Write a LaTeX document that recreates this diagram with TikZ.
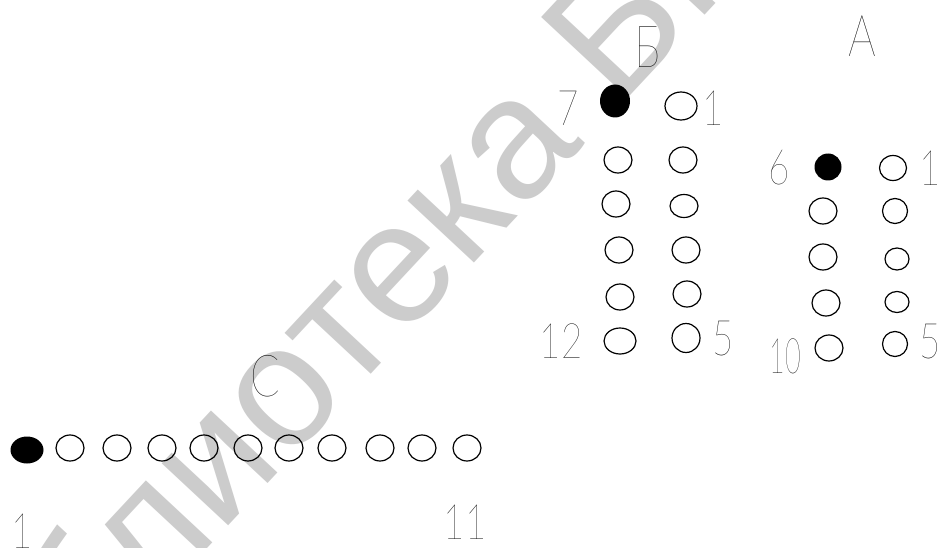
\documentclass[tikz,border=0pt]{standalone}
\usepackage{fontspec}
\setmainfont{Liberation Sans}
\newfontfamily\wmfont{Liberation Sans}
\newfontfamily\lblfont{Lato Thin}
\usetikzlibrary{shapes.geometric}
\tikzset{
  hole/.style={draw, ellipse, line width=1.2pt, inner sep=0pt, minimum width=28pt, minimum height=26pt},
  pin/.style={ellipse, fill=black, inner sep=0pt, minimum width=30pt, minimum height=30pt},
  lbl/.style={inner sep=0pt, font=\lblfont\fontsize{49}{49}\selectfont},
  biglbl/.style={inner sep=0pt, font=\lblfont\fontsize{58}{58}\selectfont},
  wm/.style={inner sep=0pt, text=black!20, font=\wmfont\fontsize{172}{172}\selectfont}
}
\newcommand{\nar}[2][0.75]{\scalebox{#1}[1]{#2}}
\newlength\wmw
\settowidth{\wmw}{\wmfont\fontsize{172}{172}\selectfont Библиотека\ }
\addtolength{\wmw}{13pt}
\begin{document}
\begin{tikzpicture}[x=1pt, y=-1pt]
\useasboundingbox (0,0) rectangle (942,548);
\clip (0,0) rectangle (942,548);
\fill[white] (0,0) rectangle (942,548);
% watermark
\path (627,99) ++(227:\wmw) node[wm, rotate=47, anchor=base west] (wmark) {Библиотека БГУИР};

% ---- block B
\node[biglbl] (lB) at (648,47) {\nar{Б}};
\node[lbl] (b7) at (568,108) {\nar{7}};
\node[pin, minimum width=30pt, minimum height=33pt] (b0) at (615,101) {};
\node[hole, minimum width=32pt, minimum height=28pt] (b1) at (681,106) {};
\node[lbl] (b1t) at (713,108) {\nar{1}};
\node[hole] (bl2) at (618,160) {};
\node[hole] (br2) at (683,160) {};
\node[hole] (bl3) at (616,204) {};
\node[hole, minimum height=23pt] (br3) at (684,206) {};
\node[hole] (bl4) at (619,250) {};
\node[hole] (br4) at (686,250) {};
\node[hole] (bl5) at (620,297) {};
\node[hole] (br5) at (687,294) {};
\node[hole, minimum width=32pt] (bl6) at (620,341) {};
\node[hole, minimum height=29pt] (br6) at (686,338) {};
\node[lbl] (b12) at (561,341) {\nar{12}};
\node[lbl] (b5) at (723,339) {\nar{5}};

% ---- block A
\node[biglbl] (lA) at (862,36) {\nar{A}};
\node[lbl] (a6) at (779,168) {\nar{6}};
\node[pin, minimum width=27pt, minimum height=27pt] (a0) at (828,167) {};
\node[hole, minimum width=27pt, minimum height=25pt] (a1) at (893,168) {};
\node[lbl] (a1t) at (930,168) {\nar{1}};
\node[hole] (al2) at (823,211) {};
\node[hole, minimum width=25pt, minimum height=25pt] (ar2) at (895,211) {};
\node[hole] (al3) at (823,257) {};
\node[hole, minimum width=24pt, minimum height=22pt] (ar3) at (897,259) {};
\node[hole] (al4) at (826,303) {};
\node[hole, minimum width=24pt, minimum height=21pt] (ar4) at (897,302) {};
\node[hole] (al5) at (829,348) {};
\node[hole, minimum width=25pt, minimum height=25pt] (ar5) at (895,344) {};
\node[lbl] (a10) at (785,356) {\nar[0.55]{10}};
\node[lbl] (a5) at (930,342) {\nar{5}};

% ---- block C
\node[biglbl] (lC) at (265,376) {\nar{C}};
\node[pin, minimum width=33pt, minimum height=27pt] (c1) at (27,450) {};
\foreach \x [count=\i from 2] in {70,117,162,204,248,289,332,380,422,467}
  \node[hole] (c\i) at (\x,448) {};
\node[lbl] (c1t) at (22,531) {\nar{1}};
\node[lbl] (c11t) at (465,522) {\nar{11}};
\end{tikzpicture}
\end{document}
